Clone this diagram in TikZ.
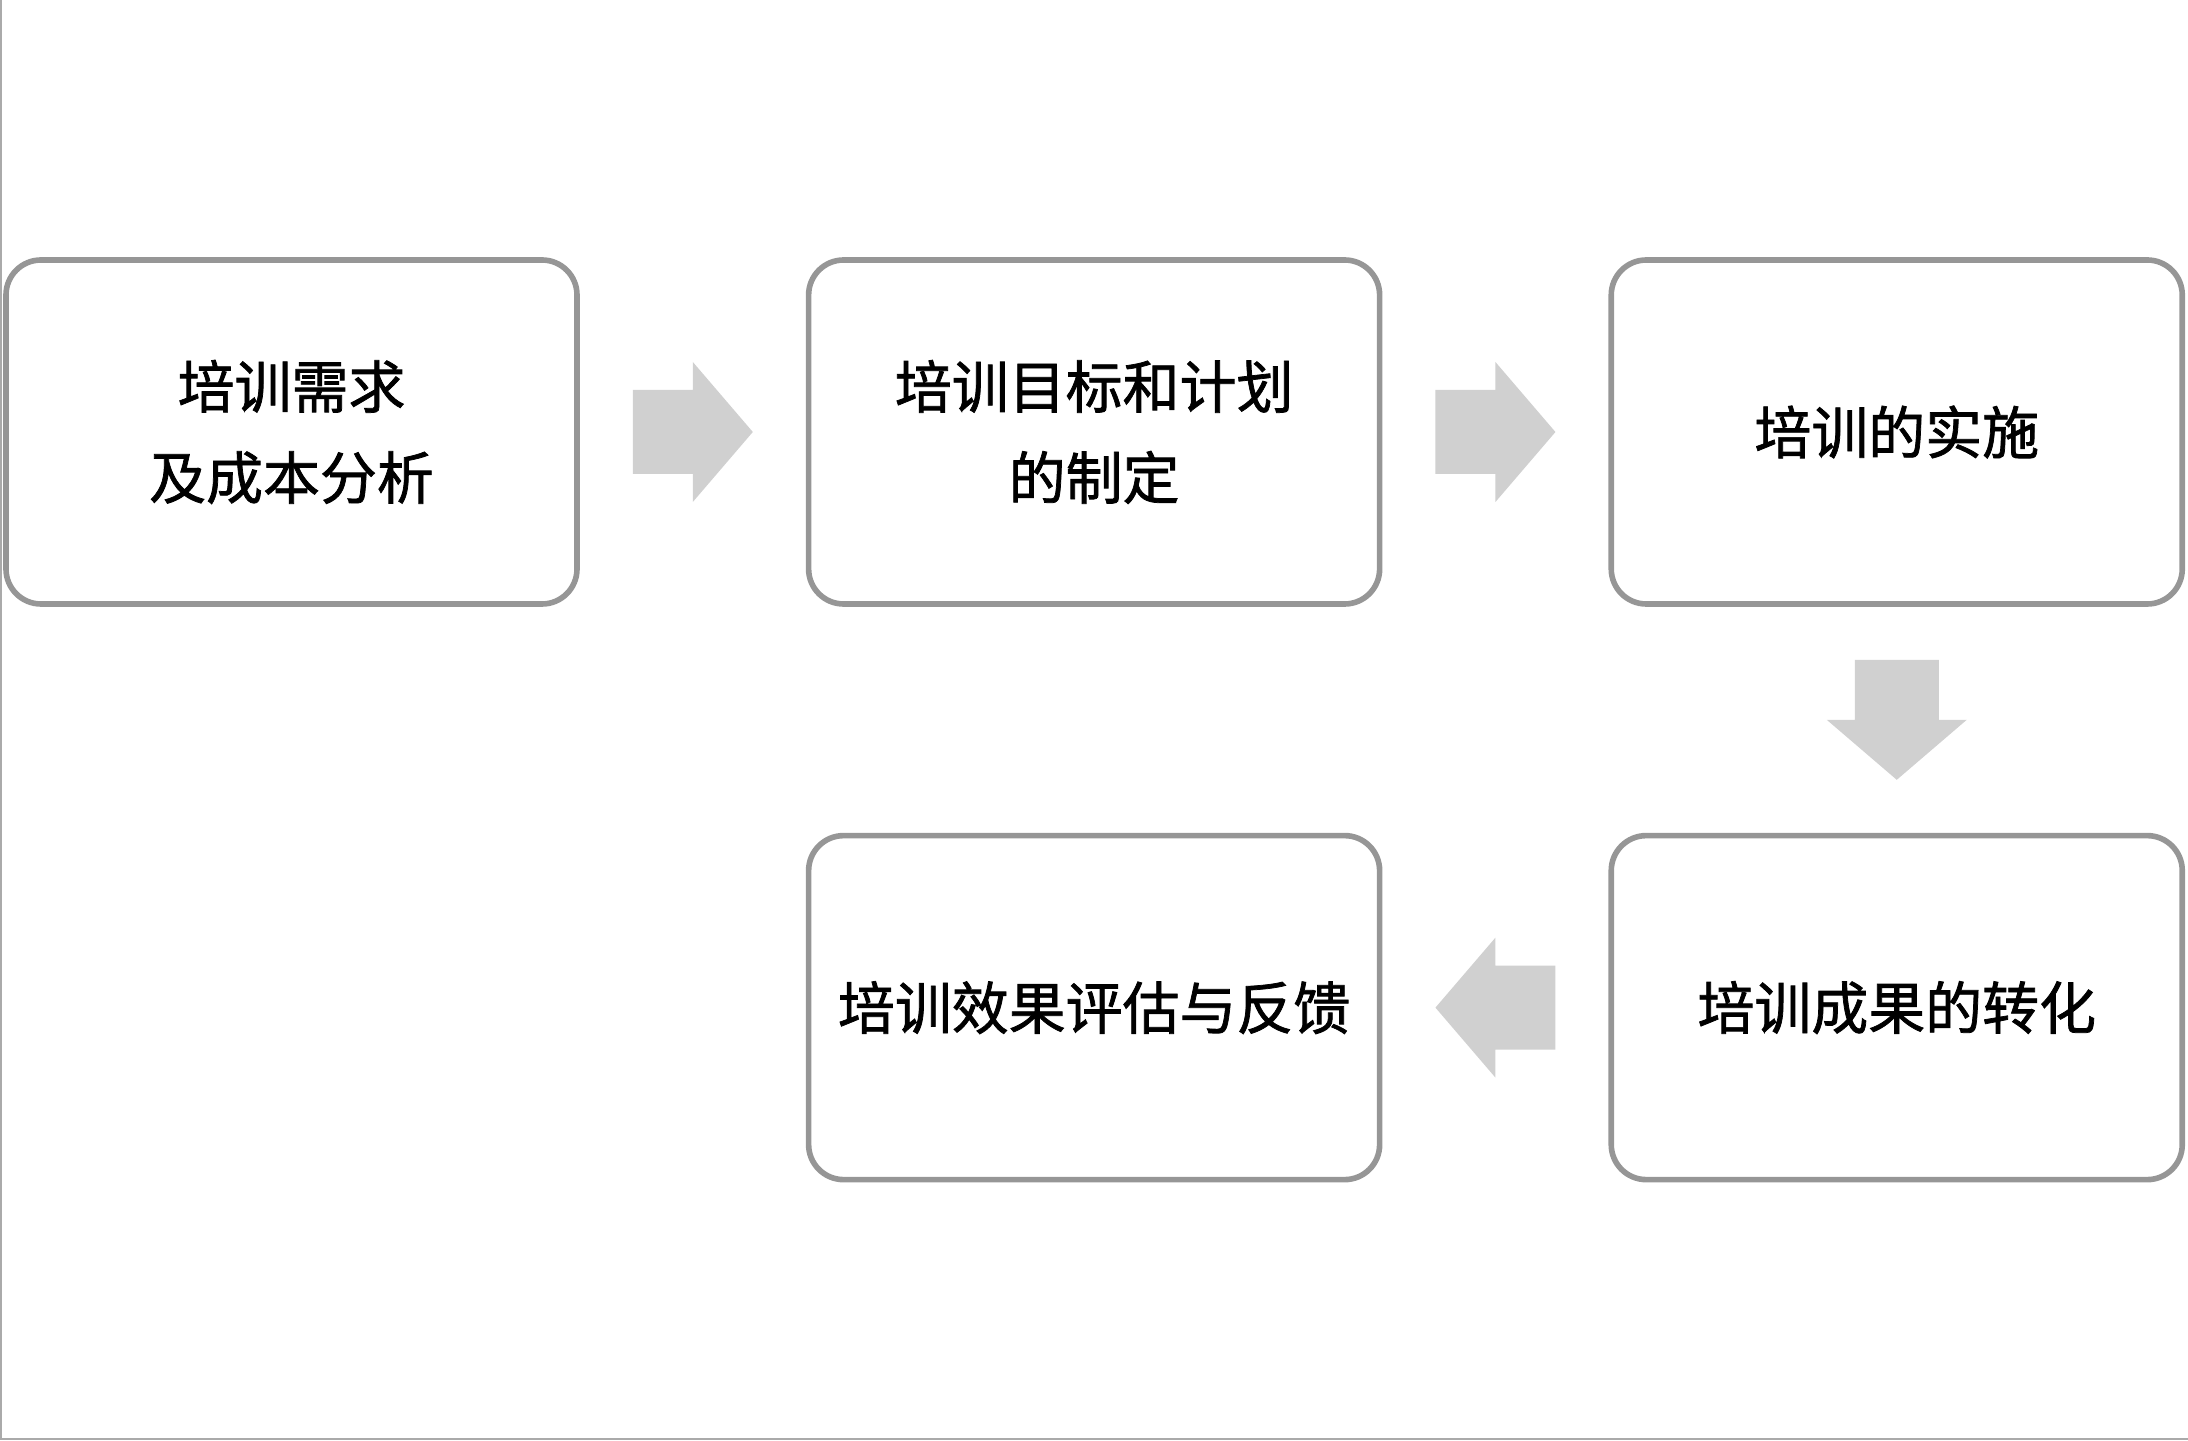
\documentclass[tikz,border=0pt]{standalone}
\usepackage{fontspec}
\newfontfamily\cjk[FakeBold=1.3]{Noto Sans CJK SC}
\usetikzlibrary{positioning,calc}
\definecolor{boxgray}{RGB}{150,150,150}
\definecolor{arrowgray}{RGB}{208,208,208}
\definecolor{framegray}{RGB}{170,170,170}
\tikzset{
	stepbox/.style={draw=boxgray, line width=1.6pt, rounded corners=0.35cm,
		minimum width=5.71cm, minimum height=3.44cm, align=center,
		font=\cjk\fontsize{16.2}{25.9}\selectfont},
	fatarrow/.pic={\fill[arrowgray] (-0.6,-0.42) -- (0,-0.42) -- (0,-0.70) -- (0.6,0)
		-- (0,0.70) -- (0,0.42) -- (-0.6,0.42) -- cycle;}
}
\begin{document}
\begin{tikzpicture}
	
	\useasboundingbox (0,0) rectangle (21.88,14.40);
	\draw[framegray, line width=0.02cm] (0.01,14.40) -- (0.01,0.01) -- (21.88,0.01);
	\node[stepbox] (xuqiu) at (2.915,10.08) {培训需求\\及成本分析};
	\node[stepbox, right=2.26cm of xuqiu] (jihua) {培训目标和计划\\的制定};
	\node[stepbox, right=2.26cm of jihua] (shishi) {培训的实施};
	\node[stepbox, below=2.26cm of shishi] (zhuanhua) {培训成果的转化};
	\node[stepbox, left=2.26cm of zhuanhua] (pinggu) {培训效果评估与反馈};
	\pic at ($(xuqiu.east)!0.5!(jihua.west)$) {fatarrow};
	\pic at ($(jihua.east)!0.5!(shishi.west)$) {fatarrow};
	\pic[rotate=-90] at ($(shishi.south)!0.5!(zhuanhua.north)$) {fatarrow};
	\pic[rotate=180] at ($(zhuanhua.west)!0.5!(pinggu.east)$) {fatarrow};
\end{tikzpicture}
\end{document}
